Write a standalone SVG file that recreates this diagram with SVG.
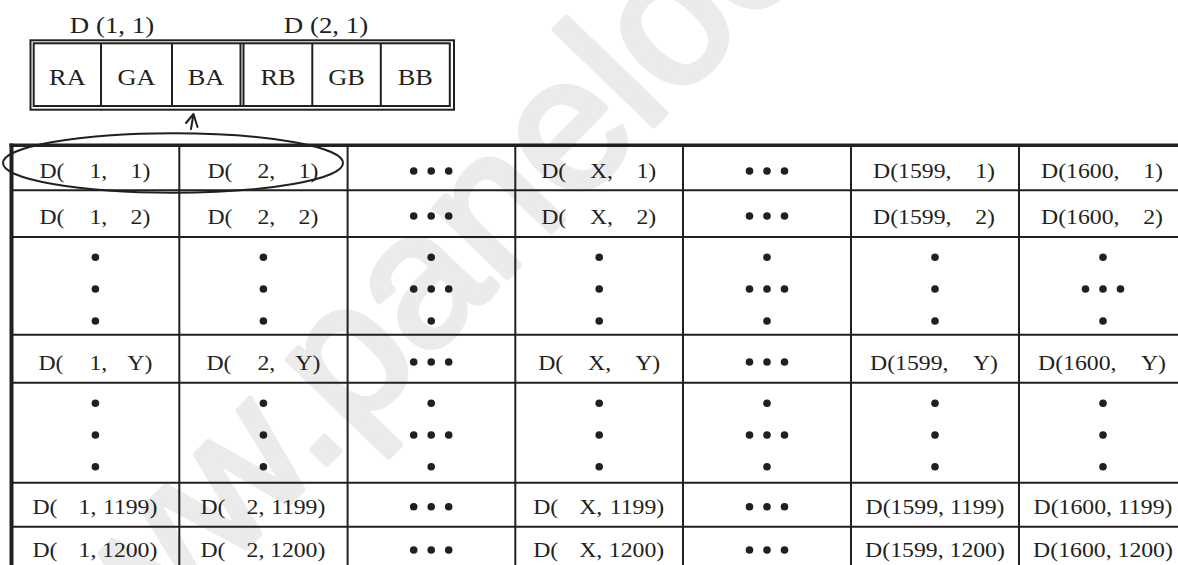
<svg xmlns="http://www.w3.org/2000/svg" width="1178" height="565" viewBox="0 0 1178 565">
<style>
.t{font-family:"Liberation Serif","Times New Roman",serif;font-size:22px;fill:#231f20}
.tb{font-family:"Liberation Serif","Times New Roman",serif;font-size:24px;fill:#231f20;text-anchor:middle}
.e{text-anchor:end}
.m{text-anchor:middle}
.dot{fill:#231f20}
.ln{stroke:#231f20;stroke-width:2;fill:none}
.thick{stroke:#231f20;fill:none}
.wm{font-family:"Liberation Sans",Arial,sans-serif;font-size:190px;fill:#ebebeb;stroke:#ebebeb;stroke-width:6;stroke-linejoin:round}
</style>
<defs>
<circle id="d" r="3.8" class="dot"/>
</defs>
<rect width="1178" height="565" fill="#ffffff"/>
<text class="wm" transform="translate(36,765) rotate(-46)">www.panelook.com</text>

<g id="pixel-box">
<rect class="ln" x="30.5" y="40.3" width="423.5" height="69.4" stroke-width="2"/>
<rect class="ln" x="33.7" y="43.3" width="416.1" height="62.7" stroke-width="1.8"/>
<line class="ln" x1="101" y1="43.3" x2="101" y2="106"/>
<line class="ln" x1="172" y1="43.3" x2="172" y2="106"/>
<line class="ln" x1="240.5" y1="43.3" x2="240.5" y2="106" stroke-width="1.8"/>
<line class="ln" x1="243.5" y1="43.3" x2="243.5" y2="106" stroke-width="1.8"/>
<line class="ln" x1="312.3" y1="43.3" x2="312.3" y2="106"/>
<line class="ln" x1="380.8" y1="43.3" x2="380.8" y2="106"/>
<g transform="translate(67.4,85) scale(1.1,1)"><text class="tb">RA</text></g>
<g transform="translate(136.5,85) scale(1.1,1)"><text class="tb">GA</text></g>
<g transform="translate(206,85) scale(1.1,1)"><text class="tb">BA</text></g>
<g transform="translate(278,85) scale(1.1,1)"><text class="tb">RB</text></g>
<g transform="translate(346.5,85) scale(1.1,1)"><text class="tb">GB</text></g>
<g transform="translate(415.3,85) scale(1.1,1)"><text class="tb">BB</text></g>
</g>
<g id="label-d11" transform="translate(112,33.3) scale(1.12,1)"><text class="tb">D (1, 1)</text></g>
<g id="label-d21" transform="translate(326,33.3) scale(1.12,1)"><text class="tb">D (2, 1)</text></g>

<g id="grid">
<line class="ln" x1="11.5" y1="190.3" x2="1178" y2="190.3"/>
<line class="ln" x1="11.5" y1="237" x2="1178" y2="237"/>
<line class="ln" x1="11.5" y1="334.7" x2="1178" y2="334.7"/>
<line class="ln" x1="11.5" y1="382.7" x2="1178" y2="382.7"/>
<line class="ln" x1="11.5" y1="482.7" x2="1178" y2="482.7"/>
<line class="ln" x1="11.5" y1="526.7" x2="1178" y2="526.7"/>
<line class="ln" x1="179.3" y1="145" x2="179.3" y2="565"/>
<line class="ln" x1="347.6" y1="145" x2="347.6" y2="565"/>
<line class="ln" x1="515.3" y1="145" x2="515.3" y2="565"/>
<line class="ln" x1="683" y1="145" x2="683" y2="565"/>
<line class="ln" x1="851" y1="145" x2="851" y2="565"/>
<line class="ln" x1="1019" y1="145" x2="1019" y2="565"/>
<line class="thick" x1="9.5" y1="145.2" x2="1178" y2="145.2" stroke-width="3.6"/>
<line class="thick" x1="11.5" y1="143.4" x2="11.5" y2="565" stroke-width="4"/>
</g>

<!-- row 1 -->
<g id="cell-1-1" transform="translate(95.4,178) scale(1.08,1)"><text class="t" x="-51.85">D(</text><text class="t e" x="11">1,</text><text class="t e" x="50.93">1)</text></g>
<g id="cell-2-1" transform="translate(263.4,178) scale(1.08,1)"><text class="t" x="-51.85">D(</text><text class="t e" x="11">2,</text><text class="t e" x="50.93">1)</text></g>
<g id="cell-x-1" transform="translate(599.2,178) scale(1.08,1)"><text class="t" x="-53.7">D(</text><text class="t e" x="12.8">X,</text><text class="t e" x="52.78">1)</text></g>
<g id="cell-1599-1" transform="translate(935,178) scale(1.08,1)"><text class="t" x="-57.41">D(1599,</text><text class="t e" x="55.56">1)</text></g>
<g id="cell-1600-1" transform="translate(1103,178) scale(1.08,1)"><text class="t" x="-57.41">D(1600,</text><text class="t e" x="55.56">1)</text></g>
<!-- row 2 -->
<g id="cell-1-2" transform="translate(95.4,223.5) scale(1.08,1)"><text class="t" x="-51.85">D(</text><text class="t e" x="11">1,</text><text class="t e" x="50.93">2)</text></g>
<g id="cell-2-2" transform="translate(263.4,223.5) scale(1.08,1)"><text class="t" x="-51.85">D(</text><text class="t e" x="11">2,</text><text class="t e" x="50.93">2)</text></g>
<g id="cell-x-2" transform="translate(599.2,223.5) scale(1.08,1)"><text class="t" x="-53.7">D(</text><text class="t e" x="12.8">X,</text><text class="t e" x="52.78">2)</text></g>
<g id="cell-1599-2" transform="translate(935,223.5) scale(1.08,1)"><text class="t" x="-57.41">D(1599,</text><text class="t e" x="55.56">2)</text></g>
<g id="cell-1600-2" transform="translate(1103,223.5) scale(1.08,1)"><text class="t" x="-57.41">D(1600,</text><text class="t e" x="55.56">2)</text></g>
<!-- row Y -->
<g id="cell-1-y" transform="translate(95.4,369.5) scale(1.08,1)"><text class="t" x="-52.78">D(</text><text class="t e" x="11">1,</text><text class="t e" x="52.78">Y)</text></g>
<g id="cell-2-y" transform="translate(263.4,369.5) scale(1.08,1)"><text class="t" x="-52.78">D(</text><text class="t e" x="11">2,</text><text class="t e" x="52.78">Y)</text></g>
<g id="cell-x-y" transform="translate(599.2,369.5) scale(1.08,1)"><text class="t" x="-56.48">D(</text><text class="t e" x="11">X,</text><text class="t e" x="56.48">Y)</text></g>
<g id="cell-1599-y" transform="translate(935,369.5) scale(1.08,1)"><text class="t" x="-60.19">D(1599,</text><text class="t e" x="58.33">Y)</text></g>
<g id="cell-1600-y" transform="translate(1103,369.5) scale(1.08,1)"><text class="t" x="-60.19">D(1600,</text><text class="t e" x="58.33">Y)</text></g>
<!-- row 1199 -->
<g id="cell-1-1199" transform="translate(95.4,514) scale(1.08,1)"><text class="t" x="-58.33">D(</text><text class="t e" x="0.93">1,</text><text class="t e" x="57.41">1199)</text></g>
<g id="cell-2-1199" transform="translate(263.4,514) scale(1.08,1)"><text class="t" x="-58.33">D(</text><text class="t e" x="0.93">2,</text><text class="t e" x="57.41">1199)</text></g>
<g id="cell-x-1199" transform="translate(599.2,514) scale(1.08,1)"><text class="t" x="-61.11">D(</text><text class="t e" x="2.78">X,</text><text class="t e" x="60.19">1199)</text></g>
<g id="cell-1599-1199" transform="translate(935,514) scale(1.08,1)"><text class="t m">D(1599, 1199)</text></g>
<g id="cell-1600-1199" transform="translate(1103,514) scale(1.08,1)"><text class="t m">D(1600, 1199)</text></g>
<!-- row 1200 -->
<g id="cell-1-1200" transform="translate(95.4,557) scale(1.08,1)"><text class="t" x="-58.33">D(</text><text class="t e" x="0.93">1,</text><text class="t e" x="57.41">1200)</text></g>
<g id="cell-2-1200" transform="translate(263.4,557) scale(1.08,1)"><text class="t" x="-58.33">D(</text><text class="t e" x="0.93">2,</text><text class="t e" x="57.41">1200)</text></g>
<g id="cell-x-1200" transform="translate(599.2,557) scale(1.08,1)"><text class="t" x="-61.11">D(</text><text class="t e" x="2.78">X,</text><text class="t e" x="60.19">1200)</text></g>
<g id="cell-1599-1200" transform="translate(935,557) scale(1.08,1)"><text class="t m">D(1599, 1200)</text></g>
<g id="cell-1600-1200" transform="translate(1103,557) scale(1.08,1)"><text class="t m">D(1600, 1200)</text></g>

<g id="ellipsis-h">
<use href="#d" x="413.7" y="171"/><use href="#d" x="431.2" y="171"/><use href="#d" x="448.7" y="171"/>
<use href="#d" x="749.5" y="171"/><use href="#d" x="767" y="171"/><use href="#d" x="784.5" y="171"/>
<use href="#d" x="413.7" y="216"/><use href="#d" x="431.2" y="216"/><use href="#d" x="448.7" y="216"/>
<use href="#d" x="749.5" y="216"/><use href="#d" x="767" y="216"/><use href="#d" x="784.5" y="216"/>
<use href="#d" x="413.7" y="362"/><use href="#d" x="431.2" y="362"/><use href="#d" x="448.7" y="362"/>
<use href="#d" x="749.5" y="362"/><use href="#d" x="767" y="362"/><use href="#d" x="784.5" y="362"/>
<use href="#d" x="413.7" y="506.7"/><use href="#d" x="431.2" y="506.7"/><use href="#d" x="448.7" y="506.7"/>
<use href="#d" x="749.5" y="506.7"/><use href="#d" x="767" y="506.7"/><use href="#d" x="784.5" y="506.7"/>
<use href="#d" x="413.7" y="550"/><use href="#d" x="431.2" y="550"/><use href="#d" x="448.7" y="550"/>
<use href="#d" x="749.5" y="550"/><use href="#d" x="767" y="550"/><use href="#d" x="784.5" y="550"/>
</g>
<g id="ellipsis-v1">
<use href="#d" x="95.4" y="257.3"/><use href="#d" x="95.4" y="289"/><use href="#d" x="95.4" y="321"/>
<use href="#d" x="263.4" y="257.3"/><use href="#d" x="263.4" y="289"/><use href="#d" x="263.4" y="321"/>
<use href="#d" x="431.2" y="257.3"/><use href="#d" x="413.7" y="289"/><use href="#d" x="431.2" y="289"/><use href="#d" x="448.7" y="289"/><use href="#d" x="431.2" y="321"/>
<use href="#d" x="599.2" y="257.3"/><use href="#d" x="599.2" y="289"/><use href="#d" x="599.2" y="321"/>
<use href="#d" x="767" y="257.3"/><use href="#d" x="749.5" y="289"/><use href="#d" x="767" y="289"/><use href="#d" x="784.5" y="289"/><use href="#d" x="767" y="321"/>
<use href="#d" x="935" y="257.3"/><use href="#d" x="935" y="289"/><use href="#d" x="935" y="321"/>
<use href="#d" x="1103" y="257.3"/><use href="#d" x="1085.5" y="289"/><use href="#d" x="1103" y="289"/><use href="#d" x="1120.5" y="289"/><use href="#d" x="1103" y="321"/>
</g>
<g id="ellipsis-v2">
<use href="#d" x="95.4" y="403.3"/><use href="#d" x="95.4" y="435"/><use href="#d" x="95.4" y="466.7"/>
<use href="#d" x="263.4" y="403.3"/><use href="#d" x="263.4" y="435"/><use href="#d" x="263.4" y="466.7"/>
<use href="#d" x="431.2" y="403.3"/><use href="#d" x="413.7" y="435"/><use href="#d" x="431.2" y="435"/><use href="#d" x="448.7" y="435"/><use href="#d" x="431.2" y="466.7"/>
<use href="#d" x="599.2" y="403.3"/><use href="#d" x="599.2" y="435"/><use href="#d" x="599.2" y="466.7"/>
<use href="#d" x="767" y="403.3"/><use href="#d" x="749.5" y="435"/><use href="#d" x="767" y="435"/><use href="#d" x="784.5" y="435"/><use href="#d" x="767" y="466.7"/>
<use href="#d" x="935" y="403.3"/><use href="#d" x="935" y="435"/><use href="#d" x="935" y="466.7"/>
<use href="#d" x="1103" y="403.3"/><use href="#d" x="1103" y="435"/><use href="#d" x="1103" y="466.7"/>
</g>

<g id="connectors">
<ellipse class="ln" cx="173" cy="163" rx="170" ry="29.7"/>
<path class="ln" d="M186,123 L193.5,114 L197.5,127 M193.5,114 L191,129" stroke-width="1.8" stroke-linecap="round" stroke-linejoin="round"/>
</g>
</svg>
